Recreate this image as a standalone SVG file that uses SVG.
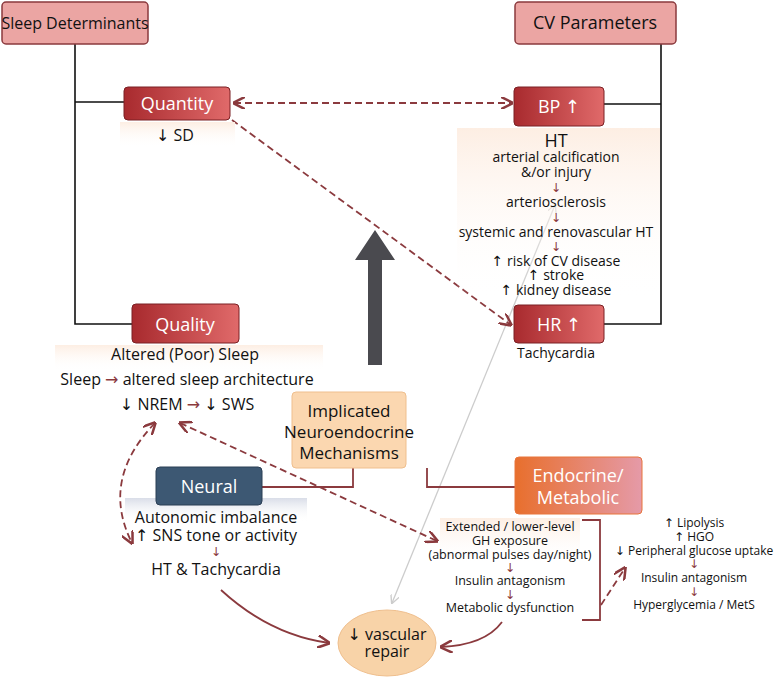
<svg xmlns="http://www.w3.org/2000/svg" width="778" height="678" viewBox="0 0 778 678">
<style>
text{font-family:"Open Sans","Noto Sans","Liberation Sans",sans-serif;fill:#111;text-anchor:middle}
.t{font-size:14px}.m{font-size:16px}.s{font-size:12.5px}.x{font-size:12px}
.w{fill:#fff;font-size:18px}
.r{fill:#8b3a3e}
.ar{font-family:"DejaVu Sans",sans-serif}
.blk{fill:none;stroke:#111;stroke-width:1.6}
.dr{fill:none;stroke:#8b3a3e;stroke-width:1.8}
.dash{fill:none;stroke:#8b3a3e;stroke-width:1.8;stroke-dasharray:7 4}
</style>
<defs>
<linearGradient id="red" x1="0" x2="1"><stop offset="0" stop-color="#a82a2e"/><stop offset="1" stop-color="#e06a6a"/></linearGradient>
<linearGradient id="org" x1="0" x2="1"><stop offset="0" stop-color="#e86f2d"/><stop offset="1" stop-color="#e59aa8"/></linearGradient>
<linearGradient id="pale" x1="0" y1="0" x2="0" y2="1"><stop offset="0" stop-color="#fdeee3"/><stop offset="1" stop-color="#fff" stop-opacity="0"/></linearGradient>
<linearGradient id="paleb" x1="0" y1="0" x2="0" y2="1"><stop offset="0" stop-color="#d9dde8"/><stop offset="1" stop-color="#fff" stop-opacity="0"/></linearGradient>
<marker id="a" viewBox="0 0 10 10" refX="9" refY="5" markerWidth="7" markerHeight="7" orient="auto-start-reverse"><path d="M0,0 L10,5 L0,10" fill="none" stroke="#8b3a3e" stroke-width="2"/></marker>
<marker id="g" viewBox="0 0 10 10" refX="9" refY="5" markerWidth="7" markerHeight="7" orient="auto-start-reverse"><path d="M0,0 L10,5 L0,10" fill="none" stroke="#ccc" stroke-width="1.5"/></marker>
</defs>
<rect width="778" height="678" fill="#fff"/>
<g id="connectors">
<path class="blk" d="M75 44 V324 H132 M75 102 H124 M661 44 V324 H604 M661 104 H604"/>
<path d="M368 365 V260 H355 L375 230 L395 260 H382 V365 Z" fill="#4a4a4f"/>
<path d="M392 603 L555 205" stroke="#ccc" stroke-width="1.3" fill="none" marker-start="url(#g)" marker-end="url(#g)"/>
<path class="dash" d="M234 103 H512" marker-start="url(#a)" marker-end="url(#a)"/>
<path class="dash" d="M232 120 L511 325" marker-end="url(#a)"/>
<path class="dash" d="M180 423 L437 541" marker-start="url(#a)" marker-end="url(#a)"/>
<path class="dash" d="M155 423 Q100 480 132 543" marker-start="url(#a)" marker-end="url(#a)"/>
<path class="dash" d="M601 605 L625 568" marker-end="url(#a)"/>
<path class="dr" d="M353 468 V487 H262 M427 468 V487 H515"/>
<path class="dr" d="M582 520 H600 V620 H582"/>
<path class="dr" d="M221 590 Q270 635 329 643" marker-end="url(#a)"/>
<path class="dr" d="M502 622 Q485 645 441 647" marker-end="url(#a)"/>
</g>
<g id="sleep-determinants"><rect x="2" y="2" width="146" height="42" rx="4" fill="#eba5a3" stroke="#8b3a3e" stroke-width="1.5"/><text x="75" y="29" style="font-size:16px">Sleep Determinants</text></g>
<g id="cv-parameters"><rect x="515" y="2" width="161" height="42" rx="4" fill="#eba5a3" stroke="#8b3a3e" stroke-width="1.5"/><text x="595" y="29" style="font-size:18px">CV Parameters</text></g>
<g id="quantity"><rect x="120" y="122" width="115" height="26" fill="url(#pale)"/><rect x="124" y="87" width="106" height="33" rx="4" fill="url(#red)" stroke="#7a2024"/><text class="w" x="177" y="110">Quantity</text><text class="m" x="175" y="141"><tspan class="ar">↓</tspan> SD</text></g>
<g id="bp"><rect x="457" y="128" width="203" height="172" fill="url(#pale)"/><rect x="514" y="87" width="90" height="39" rx="4" fill="url(#red)" stroke="#7a2024"/><text class="w" x="559" y="113">BP <tspan class="ar">↑</tspan></text>
<text x="556" y="147" style="font-size:18px">HT</text>
<text class="t" x="556" y="162">arterial calcification</text><text class="t" x="556" y="177">&amp;/or injury</text>
<text class="s r ar" x="556" y="192">↓</text><text class="t" x="556" y="207">arteriosclerosis</text>
<text class="s r ar" x="556" y="222">↓</text><text class="t" x="556" y="237">systemic and renovascular HT</text>
<text class="s r ar" x="556" y="251">↓</text><text class="t" x="556" y="266"><tspan class="ar">↑</tspan> risk of CV disease</text><text class="t" x="556" y="280"><tspan class="ar">↑</tspan> stroke</text><text class="t" x="556" y="295"><tspan class="ar">↑</tspan> kidney disease</text></g>
<g id="hr"><rect x="514" y="305" width="90" height="38" rx="4" fill="url(#red)" stroke="#7a2024"/><text class="w" x="559" y="331">HR <tspan class="ar">↑</tspan></text><text x="556" y="358" style="font-size:14px">Tachycardia</text></g>
<g id="quality"><rect x="55" y="345" width="268" height="26" fill="url(#pale)"/><rect x="132" y="304" width="107" height="39" rx="4" fill="url(#red)" stroke="#7a2024"/><text class="w" x="185" y="331">Quality</text>
<text class="m" x="185" y="360">Altered (Poor) Sleep</text>
<text class="m" x="187" y="385">Sleep <tspan class="r ar">→</tspan> altered sleep architecture</text>
<text class="m" x="187" y="410"><tspan class="ar">↓</tspan> NREM <tspan class="r ar">→</tspan> <tspan class="ar">↓</tspan> SWS</text></g>
<g id="implicated"><rect x="292" y="392" width="114" height="76" rx="4" fill="#fbd7b0" stroke="#efbf8e"/><text x="349" y="417" style="font-size:17px">Implicated</text><text x="349" y="438" style="font-size:17px">Neuroendocrine</text><text x="349" y="459" style="font-size:17px">Mechanisms</text></g>
<g id="neural"><rect x="125" y="498" width="182" height="24" fill="url(#paleb)"/><rect x="156" y="467" width="106" height="38" rx="4" fill="#3d5873" stroke="#2b3f55"/><text class="w" x="209" y="493">Neural</text>
<text class="m" x="216" y="523">Autonomic imbalance</text><text class="m" x="216" y="541"><tspan class="ar">↑</tspan> SNS tone or activity</text><text class="s r ar" x="216" y="556">↓</text><text class="m" x="216" y="575">HT &amp; Tachycardia</text></g>
<g id="endocrine"><rect x="440" y="518" width="140" height="45" fill="url(#pale)"/><rect x="515" y="457" width="127" height="57" rx="4" fill="url(#org)" stroke="#e8743a"/><text class="w" x="578" y="482">Endocrine/</text><text class="w" x="578" y="504">Metabolic</text>
<text class="s" x="510" y="531">Extended / lower-level</text><text class="s" x="510" y="545">GH exposure</text><text class="s" x="510" y="559">(abnormal pulses day/night)</text>
<text class="s r ar" x="510" y="572">↓</text><text class="s" x="510" y="585">Insulin antagonism</text><text class="s r ar" x="510" y="599">↓</text><text class="s" x="510" y="612">Metabolic dysfunction</text>
<text class="x" x="694" y="527"><tspan class="ar">↑</tspan> Lipolysis</text><text class="x" x="694" y="541"><tspan class="ar">↑</tspan> HGO</text><text class="x" x="694" y="555"><tspan class="ar">↓</tspan> Peripheral glucose uptake</text>
<text class="x r ar" x="694" y="568">↓</text><text class="x" x="694" y="582">Insulin antagonism</text><text class="x r ar" x="694" y="596">↓</text><text class="x" x="694" y="609">Hyperglycemia / MetS</text></g>
<g id="vascular-repair"><ellipse cx="387" cy="643" rx="49" ry="33" fill="#f8d3a8" stroke="#efbf8e"/><text class="m" x="387" y="640"><tspan class="ar">↓</tspan> vascular</text><text class="m" x="387" y="657">repair</text></g>
</svg>
